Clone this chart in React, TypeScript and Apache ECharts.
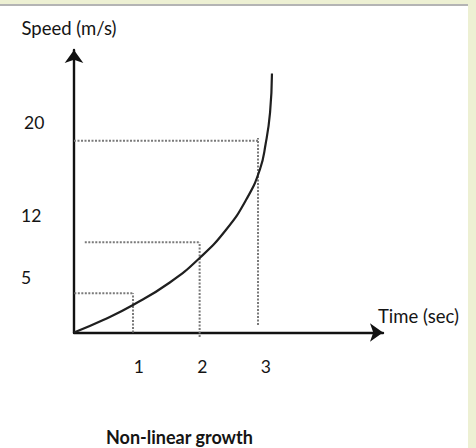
import React, { useEffect, useRef } from "react";
import * as echarts from "echarts";

// Curve, in axis units
const curveX = [0, 0.46, 0.93, 1.51, 1.98, 2.4, 2.72, 2.93, 3.02, 3.09, 3.12];
const curveY = [0, 1.25, 2.75, 5.0, 7.45, 10.3, 13.35, 16.3, 18.85, 22.0, 25.9];

// Dotted guide lines
const guideX = [0.93, 1.98, 2.9];
const guideY = [3.92, 9.02, 19.18];
const guideHStart = [-0.05, 0.17, 0];
const guideVStart = [0, -0.45, 0.75];
const guideVEnd = [3.92, 9.02, 19.45];

// Tick labels
const xTicks = [1, 2, 3];
const yTicks = [5, 12, 20];

const xName = "Time (sec)";
const yName = "Speed (m/s)";
const titleText = "Non-linear growth";

const FONT = "Lato, 'Liberation Sans', sans-serif";
const TXT = "#141414";

// hand-drawn label offsets (padding: top, right, bottom, left)
const yLabelPad: Record<string, number[]> = {
  "5": [0, 0, 10, 0],
  "12": [5, 0, 0, 0],
  "20": [0, 0, 20, 3],
};

export default function App() {
  const ref = useRef<HTMLDivElement>(null);
  useEffect(() => {
    if (!ref.current) return;
    const chart = echarts.init(ref.current, undefined, { renderer: "svg" });
    const guideStyle = { color: "#7a7a7a", width: 2, type: [2, 1.5] };
    const guideSeries: any[] = [];
    guideX.forEach((gx, i) => {
      guideSeries.push({
        type: "line",
        clip: false,
        symbol: "none",
        silent: true,
        lineStyle: guideStyle,
        data: [
          [guideHStart[i], guideY[i]],
          [gx, guideY[i]],
        ],
      });
      guideSeries.push({
        type: "line",
        clip: false,
        symbol: "none",
        silent: true,
        lineStyle: guideStyle,
        data: [
          [gx, guideVStart[i]],
          [gx, guideVEnd[i]],
        ],
      });
    });
    const rich: Record<string, any> = {};
    yTicks.forEach((v) => {
      rich["t" + v] = {
        fontFamily: FONT,
        fontSize: 17.5,
        color: TXT,
        padding: yLabelPad[String(v)] || [0, 0, 0, 0],
      };
    });
    chart.setOption({
      animation: false,
      backgroundColor: "#ffffff",
      textStyle: { fontFamily: FONT },
      title: {
        text: titleText,
        left: 101,
        top: 423,
        textStyle: { fontFamily: FONT, fontSize: 18, fontWeight: "bold", color: TXT },
      },
      graphic: [
        { type: "rect", shape: { x: 0, y: 0, width: 476, height: 4 }, style: { fill: "#edf0d3" } },
        { type: "rect", shape: { x: 0, y: 4, width: 468, height: 2 }, style: { fill: "#b4b4b4" } },
        { type: "rect", shape: { x: 468, y: 0, width: 8, height: 448 }, style: { fill: "#edf0d3" } },
      ],
      grid: {
        left: 74,
        top: 50,
        right: 93,
        bottom: 115.5,
        containLabel: false,
        outerBoundsMode: "none",
      },
      xAxis: {
        type: "value",
        min: 0,
        max: 4.87,
        name: xName,
        nameLocation: "end",
        nameGap: -5,
        nameTextStyle: {
          fontFamily: FONT,
          fontSize: 18.5,
          color: TXT,
          align: "left",
          verticalAlign: "bottom",
          padding: [0, 0, 7, 0],
        },
        axisLine: {
          show: true,
          onZero: false,
          symbol: ["none", "arrow"],
          symbolSize: [14, 13],
          lineStyle: { color: "#111", width: 2.4 },
        },
        axisTick: { show: false },
        splitLine: { show: false },
        axisLabel: {
          customValues: xTicks,
          margin: 25,
          fontFamily: FONT,
          fontSize: 17.5,
          color: TXT,
          padding: [0, 0, 0, 3],
        },
      },
      yAxis: {
        type: "value",
        min: 0,
        max: 28.25,
        name: yName,
        nameLocation: "end",
        nameGap: 13,
        nameTextStyle: {
          fontFamily: FONT,
          fontSize: 18.5,
          color: TXT,
          align: "center",
          padding: [0, 10, 0, 0],
        },
        axisLine: {
          show: true,
          onZero: false,
          symbol: ["none", "arrow"],
          symbolSize: [14, 13],
          lineStyle: { color: "#111", width: 2.4 },
        },
        axisTick: { show: false },
        splitLine: { show: false },
        axisLabel: {
          customValues: yTicks,
          margin: 53,
          align: "left",
          fontFamily: FONT,
          fontSize: 17.5,
          color: TXT,
          formatter: (v: number) => `{t${v}|${v}}`,
          rich,
        },
      },
      series: [
        ...guideSeries,
        {
          type: "line",
          clip: false,
          symbol: "none",
          smooth: 0.5,
          lineStyle: { color: "#1f1f1f", width: 2.2 },
          data: curveX.map((x, i) => [x, curveY[i]]),
        },
      ],
    });
    return () => chart.dispose();
  }, []);
  return (
    <div
      ref={ref}
      style={{ position: "absolute", left: 0, top: 0, width: 476, height: 448 }}
    />
  );
}
